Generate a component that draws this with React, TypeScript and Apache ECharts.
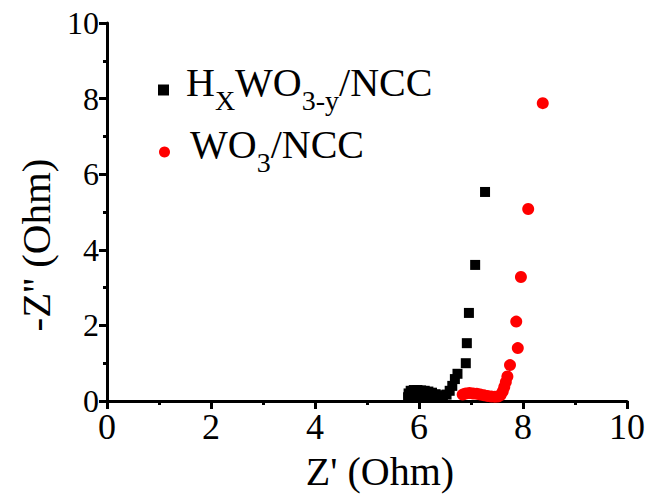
import React, { useEffect, useRef } from "react";
import * as echarts from "echarts";

// Nyquist data: [Z' (Ohm), -Z'' (Ohm)]
const hxwoNcc: number[][] = [
  [5.79, 0.1], [5.8, 0.2], [5.84, 0.27], [5.9, 0.29], [5.97, 0.29], [6.04, 0.28],
  [6.11, 0.27], [6.18, 0.25], [6.25, 0.22], [6.32, 0.18], [6.39, 0.15], [6.46, 0.14],
  [5.95, 0.12], [6.12, 0.13], [6.28, 0.12],
  [6.53, 0.17], [6.59, 0.27], [6.64, 0.4], [6.69, 0.58], [6.74, 0.72],
  [6.9, 1.0], [6.92, 1.53], [6.96, 2.33], [7.08, 3.6], [7.27, 5.53],
];

const wo3Ncc: number[][] = [
  [6.84, 0.17], [6.9, 0.2], [6.97, 0.21], [7.04, 0.2], [7.11, 0.19], [7.18, 0.17],
  [7.25, 0.15], [7.32, 0.13], [7.39, 0.12], [7.46, 0.11], [7.52, 0.12], [7.57, 0.16],
  [7.61, 0.25], [7.64, 0.37], [7.67, 0.5], [7.7, 0.65], [7.75, 0.95], [7.9, 1.4],
  [7.87, 2.1], [7.96, 3.28], [8.1, 5.08], [8.38, 7.88],
];

const seriesNames = ["HXWO3-y/NCC", "WO3/NCC"];
const legendLabels: Record<string, string> = {
  "HXWO3-y/NCC": "{m|H}{s|X}{m|WO}{s|3-y}{m|/NCC}",
  "WO3/NCC": "{m|WO}{s|3}{m|/NCC}",
};

const FONT = "Liberation Serif";

const legendRich = {
  m: { fontSize: 40, lineHeight: 40, fontFamily: FONT, color: "#000", padding: [0, 0, 16, 0] },
  s: { fontSize: 28, lineHeight: 28, fontFamily: FONT, color: "#000", padding: [21, 0, 0, 0] },
};

function makeLegend(name: string, left: number, top: number, gap: number) {
  return {
    data: [name],
    left,
    top,
    orient: "vertical",
    itemWidth: 11,
    itemHeight: 11,
    itemGap: 0,
    formatter: (n: string) => legendLabels[n],
    textStyle: { fontFamily: FONT, rich: legendRich, padding: [0, 0, 0, gap] },
  };
}

function axisBase() {
  return {
    type: "value",
    min: 0,
    max: 10,
    interval: 2,
    axisLine: { show: true, onZero: false, lineStyle: { color: "#000", width: 3 } },
    axisTick: { show: true, inside: false, length: 8, lineStyle: { color: "#000", width: 3 } },
    minorTick: { show: true, splitNumber: 2, length: 4, lineStyle: { color: "#000", width: 3 } },
    splitLine: { show: false },
    minorSplitLine: { show: false },
  };
}

export default function App() {
  const ref = useRef<HTMLDivElement>(null);

  useEffect(() => {
    if (!ref.current) return;
    const chart = echarts.init(ref.current, null, { renderer: "svg" });
    chart.setOption({
      animation: false,
      backgroundColor: "#fff",
      textStyle: { fontFamily: FONT },
      grid: {
        left: 107,
        right: 23,
        top: 23,
        bottom: 99,
        containLabel: false,
        outerBoundsMode: "none",
      },
      legend: [
        makeLegend(seriesNames[0], 153, 57, 12),
        makeLegend(seriesNames[1], 154, 119, 15),
      ],
      xAxis: {
        ...axisBase(),
        name: "Z' (Ohm)",
        nameLocation: "middle",
        nameGap: 55,
        nameMoveOverlap: false,
        nameTextStyle: {
          fontFamily: FONT,
          fontSize: 40,
          lineHeight: 30,
          color: "#000",
          padding: [0, 0, 0, 26],
        },
        axisLabel: { fontFamily: FONT, fontSize: 36, lineHeight: 30, color: "#000", margin: 11 },
      },
      yAxis: {
        ...axisBase(),
        name: "-Z'' (Ohm)",
        nameLocation: "middle",
        nameGap: 46,
        nameTextStyle: { fontFamily: FONT, fontSize: 41, color: "#000", padding: [0, 66, 0, 0] },
        axisLabel: { fontFamily: FONT, fontSize: 32, color: "#000", margin: 8 },
      },
      series: [
        {
          name: seriesNames[0],
          type: "scatter",
          data: hxwoNcc,
          symbol: "rect",
          symbolSize: 10,
          itemStyle: { color: "#000", opacity: 1 },
        },
        {
          name: seriesNames[1],
          type: "scatter",
          data: wo3Ncc,
          symbol: "circle",
          symbolSize: 12,
          itemStyle: { color: "#ff0000", opacity: 1 },
        },
      ],
    });
    return () => chart.dispose();
  }, []);

  return (
    <div
      ref={ref}
      style={{ position: "fixed", left: 0, top: 0, width: 650, height: 500, background: "#fff" }}
    />
  );
}
